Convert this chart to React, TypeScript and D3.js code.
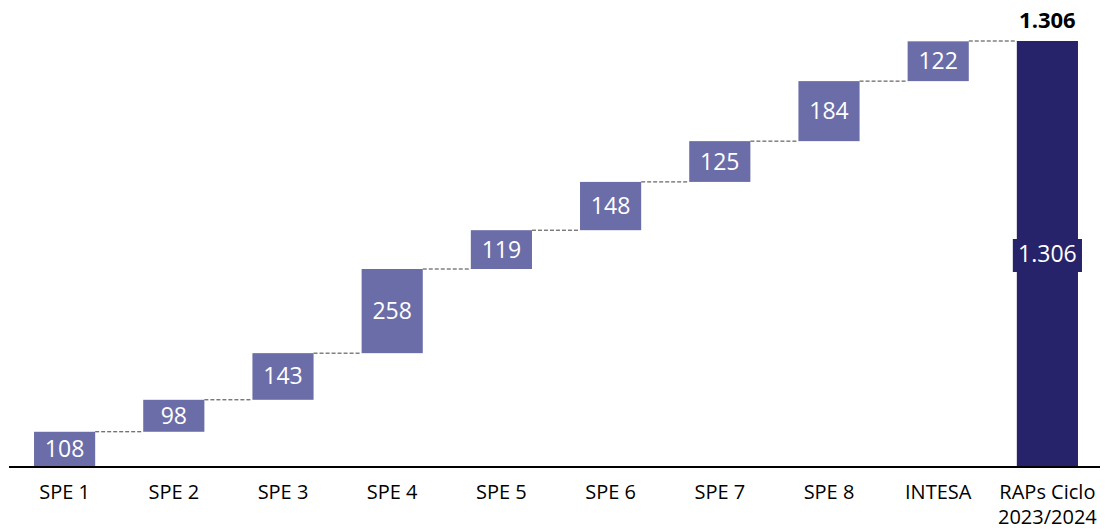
import React from "react";
import * as d3 from "d3";

const categories = ["SPE 1", "SPE 2", "SPE 3", "SPE 4", "SPE 5", "SPE 6", "SPE 7", "SPE 8", "INTESA", "RAPs Ciclo\n2023/2024"];
const stepValues = [108, 98, 143, 258, 119, 148, 125, 184, 122];
const stepLabels = ["108", "98", "143", "258", "119", "148", "125", "184", "122"];
const totalValue = 1306;
const totalLabel = "1.306";

const W = 1109;
const H = 530;
const baseY = 467;
const topY = 41;
const FONT = "'Open Sans', sans-serif";

export default function App() {
  const x = d3.scaleBand<string>().domain(categories).range([10, 1102]).paddingInner(0.44).paddingOuter(0.22);
  const y = d3.scaleLinear().domain([0, totalValue]).range([baseY, topY]);
  const bw = x.bandwidth();

  let cum = 0;
  const steps = stepValues.map((v, i) => {
    const start = cum;
    cum += v;
    return { cat: categories[i], start, end: cum, label: stepLabels[i] };
  });
  const totalCat = categories[categories.length - 1];

  return (
    <svg width={W} height={H} style={{ position: "absolute", left: 0, top: 0 }}>
      <rect width={W} height={H} fill="#ffffff" />
      {steps.map((s, i) => {
        const nextCat = categories[i + 1];
        const yy = i === steps.length - 1 ? y(totalValue) : y(s.end);
        return (
          <line
            key={"c" + i}
            x1={(x(s.cat) as number) + bw}
            x2={x(nextCat) as number}
            y1={yy}
            y2={yy}
            stroke="#404040"
            strokeWidth={1}
            strokeDasharray="4,2"
          />
        );
      })}
      {steps.map((s, i) => (
        <g key={"b" + i}>
          <rect x={x(s.cat)} y={y(s.end)} width={bw} height={y(s.start) - y(s.end)} fill="#6B6DA8" />
          <text
            x={(x(s.cat) as number) + bw / 2}
            y={(y(s.start) + y(s.end)) / 2 + 8}
            textAnchor="middle"
            fill="#ffffff"
            fontFamily={FONT}
            fontSize={23}
          >
            {s.label}
          </text>
        </g>
      ))}
      <rect x={x(totalCat)} y={y(totalValue)} width={bw} height={y(0) - y(totalValue)} fill="#27236B" />
      <rect x={(x(totalCat) as number) - 4} y={239} width={bw + 8} height={33} fill="#27236B" />
      <text
        x={(x(totalCat) as number) + bw / 2}
        y={(y(0) + y(totalValue)) / 2 + 8}
        textAnchor="middle"
        fill="#ffffff"
        fontFamily={FONT}
        fontSize={23}
      >
        {totalLabel}
      </text>
      <text
        x={(x(totalCat) as number) + bw / 2}
        y={28}
        textAnchor="middle"
        fill="#000"
        fontFamily={FONT}
        fontSize={22}
        fontWeight="bold"
      >
        {totalLabel}
      </text>
      <line x1={9} x2={1100} y1={baseY} y2={baseY} stroke="#000" strokeWidth={2} />
      {categories.map((c) => {
        const lines = c.split("\n");
        return (
          <text key={c} textAnchor="middle" fontFamily={FONT} fontSize={20} fill="#000">
            {lines.map((ln, j) => (
              <tspan key={j} x={(x(c) as number) + bw / 2} y={499 + j * 25}>
                {ln}
              </tspan>
            ))}
          </text>
        );
      })}
    </svg>
  );
}
